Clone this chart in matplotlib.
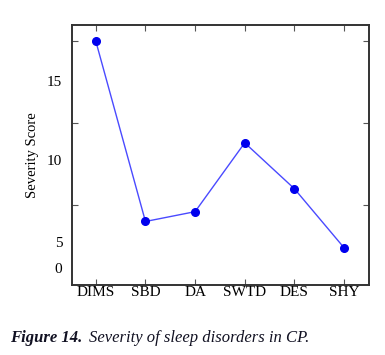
import numpy as np
import matplotlib
matplotlib.use('Agg')
import matplotlib.pyplot as plt
from matplotlib.ticker import FixedLocator

# data
categories = ['DIMS', 'SBD', 'DA', 'SWTD', 'DES', 'SHY']
scores = [15.0, 4.0, 4.6, 8.8, 6.0, 2.4]

# tick marks and the (oddly placed) tick labels of the original
tick_marks = [5, 10, 15]
label_pos = [1.15, 2.75, 7.75, 12.55]
label_txt = ['0', '5', '10', '15']

plt.rcParams['font.family'] = ['Liberation Serif', 'DejaVu Serif']

fig = plt.figure(figsize=(3.85, 3.55), dpi=100)
ax = fig.add_axes([0.187, 0.197, 0.771, 0.733])

x = np.arange(len(categories))
ax.plot(x, scores, '-', color='#4a4aff', lw=1.0)
ax.plot(x, scores, 'o', color='#0000ee', ms=5.5, mec='#0000ee')

ax.set_xlim(-0.48, 5.5)
ax.set_ylim(0.12, 16.0)

ax.set_xticks(x)
ax.set_xticklabels(categories, fontsize=11)
ax.yaxis.set_major_locator(FixedLocator(tick_marks))
ax.set_yticklabels([])
ax.yaxis.set_minor_locator(FixedLocator(label_pos))
ax.set_yticklabels(label_txt, minor=True, fontsize=11)

ax.tick_params(axis='both', which='major', direction='in', length=4,
               width=0.8, color='#555555', top=True, right=True, pad=2)
ax.tick_params(axis='y', which='minor', length=0, pad=7)
ax.tick_params(axis='x', pad=1)

for s in ax.spines.values():
    s.set_color('#333333')
    s.set_linewidth(1.4)

ax.set_ylabel('Severity Score', fontsize=10.5, labelpad=6)

fig.text(0.026, 0.037, 'Figure 14.', fontsize=12, fontstyle='italic',
         fontweight='bold', color='#111122')
fig.text(0.232, 0.037, 'Severity of sleep disorders in CP.', fontsize=12,
         fontstyle='italic', color='#111122')

fig.savefig('out.png', dpi=100)
